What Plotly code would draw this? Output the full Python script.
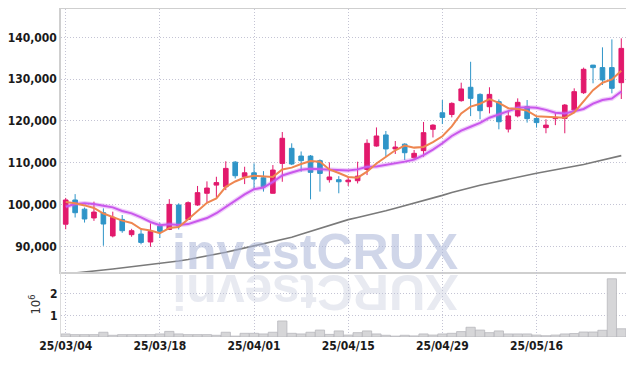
import plotly.graph_objects as go
from plotly.subplots import make_subplots

dates = ["25/03/04","25/03/05","25/03/06","25/03/07","25/03/10","25/03/11","25/03/12","25/03/13","25/03/14","25/03/17",
         "25/03/18","25/03/19","25/03/20","25/03/21","25/03/24","25/03/25","25/03/26","25/03/27","25/03/28","25/03/31",
         "25/04/01","25/04/02","25/04/03","25/04/04","25/04/07","25/04/08","25/04/09","25/04/10","25/04/11","25/04/14",
         "25/04/15","25/04/16","25/04/17","25/04/18","25/04/21","25/04/22","25/04/23","25/04/24","25/04/25","25/04/28",
         "25/04/29","25/04/30","25/05/02","25/05/07","25/05/08","25/05/09","25/05/12","25/05/13","25/05/14","25/05/15",
         "25/05/16","25/05/19","25/05/20","25/05/21","25/05/22","25/05/23","25/05/26","25/05/27","25/05/28","25/05/29"]

opens = [95300,101100,98900,96800,98050,92500,96450,92800,92950,91050,
         94850,94050,99900,96450,99900,102700,104650,104250,110150,106650,
         107600,106400,102700,109850,113450,111600,111600,110500,105950,105950,
         105450,105700,108400,114000,116650,113300,114450,111200,112900,118000,
         121950,121550,124850,128050,126350,123400,124600,118050,121200,123400,
         120600,118400,120550,120600,122600,126750,133350,132750,132750,129150]
highs = [101600,102500,99300,100700,99100,98300,97500,94200,94050,95500,
         95650,101300,100300,100750,104450,105550,106650,110350,110400,109050,
         109850,108000,109450,117350,114650,112700,111850,110800,110100,106800,
         106650,110250,115600,118450,117600,115200,114650,113050,119750,119200,
         125000,124450,129150,134150,126600,128050,125150,122200,125400,125000,
         121200,120400,122000,124050,127800,132750,133400,137600,139500,139750]
lows = [94100,96900,95700,96100,90150,92150,93250,92300,90500,89900,
        92000,93900,94050,96300,99700,100450,101700,103450,106250,104900,
        103450,103100,102650,105450,109450,107850,101250,103100,105250,102700,
        104450,105050,107050,113850,111450,112100,110650,110800,111450,116050,
        119250,120850,124600,121150,120400,121800,118000,117250,120850,119600,
        118400,117050,119000,117050,122200,126450,129000,128600,126600,125250]
closes = [101100,98050,96550,98200,95350,96950,93750,93750,90950,93600,
          93600,100050,94850,100450,102850,103950,105250,108650,106900,107600,
          106100,104250,108250,115850,109700,110500,107700,107450,106600,105450,
          105850,106800,114650,116400,113300,113750,112400,112250,117200,119000,
          120850,124200,127650,125400,122450,126350,119800,121200,124450,120550,
          119600,119000,120850,123800,127000,132350,132750,129800,127800,137350]

ma5 = [100600,100300,99800,99200,97850,97020,96160,95600,94150,93800,
       93130,94390,94610,96510,98360,100430,101470,104230,105520,106470,
       106900,106700,106620,108410,108830,109710,110400,110240,108390,107540,
       106610,106430,107870,109830,111400,112980,114100,113620,113780,114920,
       116340,118700,121780,123420,124110,125210,124330,123040,122850,122470,
       121120,120960,120890,120760,122050,124600,127350,129140,129940,132010]
ma10 = [99490,100130,100290,100130,99730,99330,98450,97900,96940,95825,
        95075,95275,95105,95330,96080,96780,97930,99420,101015,102415,
        103665,104085,105425,106965,107650,108305,108550,108430,108400,108185,
        108160,108415,109055,109110,109470,109795,110265,110745,111805,113160,
        114660,116400,117700,118600,119515,120775,121515,122410,123135,123290,
        123165,122645,121965,121805,122260,122860,124155,125015,125350,127030]
ma60 = [83400,83600,83900,84100,84350,84600,84850,85100,85350,85600,
        85850,86150,86500,86850,87250,87700,88150,88600,89100,89600,
        90100,90600,91100,91600,92200,92900,93600,94300,95000,95700,
        96400,96900,97400,97900,98500,99100,99700,100300,100900,101500,
        102200,102900,103500,104100,104600,105100,105600,106100,106600,107100,
        107500,107900,108300,108700,109100,109600,110100,110600,111100,111700]
volumes = [140000,110000,110000,110000,220000,80000,110000,110000,110000,110000,
           140000,260000,140000,110000,110000,110000,80000,220000,40000,170000,
           170000,140000,220000,740000,170000,140000,220000,320000,120000,280000,
           90000,200000,280000,140000,80000,40000,80000,50000,140000,90000,
           140000,170000,250000,450000,320000,200000,280000,140000,140000,140000,
           90000,60000,90000,140000,160000,230000,230000,310000,2690000,380000]

tick_labels = ["25/03/04","25/03/18","25/04/01","25/04/15","25/04/29","25/05/16"]
price_ticks = [90000,100000,110000,120000,130000,140000]
price_labels = ["90,000","100,000","110,000","120,000","130,000","140,000"]
vol_ticks = [1000000,2000000]
vol_labels = ["1","2"]

UP = "#e2196c"
DOWN = "#2f95c8"
GRID = "#c4c4d4"
DASH = "1px,2px"
FONT = "DejaVu Sans Condensed"

fig = make_subplots(rows=2, cols=1, shared_xaxes=True, vertical_spacing=0,
                    row_heights=[0.802, 0.198])

fig.add_trace(go.Scatter(x=dates, y=ma60, mode="lines",
                         line=dict(color="#7a7a7a", width=1.6), hoverinfo="skip"), row=1, col=1)
fig.add_trace(go.Candlestick(x=dates, open=opens, high=highs, low=lows, close=closes,
                             increasing=dict(line=dict(color=UP, width=1), fillcolor=UP),
                             decreasing=dict(line=dict(color=DOWN, width=1), fillcolor=DOWN),
                             whiskerwidth=0), row=1, col=1)
fig.add_trace(go.Scatter(x=dates, y=ma10, mode="lines",
                         line=dict(color="rgba(205,90,240,0.3)", width=4.5), hoverinfo="skip"), row=1, col=1)
fig.add_trace(go.Scatter(x=dates, y=ma10, mode="lines",
                         line=dict(color="#c957ec", width=2), hoverinfo="skip"), row=1, col=1)
fig.add_trace(go.Scatter(x=dates, y=ma5, mode="lines",
                         line=dict(color="#ee8650", width=2), hoverinfo="skip"), row=1, col=1)
fig.add_trace(go.Bar(x=dates, y=volumes, marker=dict(color="#d6d6d8", line=dict(color="#b8b8bc", width=0.8)),
                     hoverinfo="skip"), row=2, col=1)

axis_font = dict(family=FONT, size=12, color="#1a1a1a", weight="bold")

fig.update_xaxes(type="category", range=[-0.5, len(dates) - 0.5], rangeslider_visible=False,
                 tickvals=tick_labels, ticktext=tick_labels, automargin=False,
                 showgrid=True, gridcolor=GRID, griddash=DASH, gridwidth=1,
                 ticks="", tickfont=axis_font)
fig.update_xaxes(showticklabels=False, showline=True, linecolor="#cfcfcf", linewidth=1.5, mirror=True, row=1, col=1)
fig.update_xaxes(showline=False, row=2, col=1)

fig.update_yaxes(range=[83860, 146770], tickvals=price_ticks, ticktext=price_labels, automargin=False,
                 showgrid=True, gridcolor=GRID, griddash=DASH, gridwidth=1,
                 showline=True, linecolor="#cfcfcf", linewidth=1.5, mirror=True,
                 ticks="", tickfont=axis_font, zeroline=False, row=1, col=1)
fig.update_yaxes(range=[0, 3000000], tickvals=vol_ticks, ticktext=vol_labels, automargin=False,
                 showgrid=True, gridcolor=GRID, griddash=DASH, gridwidth=1,
                 showline=True, linecolor="#dcdcdc", linewidth=1, mirror=True,
                 ticks="", tickfont=axis_font, zeroline=False,
                 title=dict(text="10<sup>6</sup>", font=dict(family=FONT, size=13, color="#333333"), standoff=6),
                 row=2, col=1)

fig.add_annotation(text="investCRUX", xref="paper", yref="paper", x=0.45, y=0.198,
                   xanchor="center", yanchor="bottom", yshift=-10, showarrow=False,
                   font=dict(family="Liberation Sans", size=50, color="rgba(170,180,215,0.55)", weight="bold"))
fig.add_annotation(text="XURCtsevni", xref="paper", yref="paper", x=0.45, y=0.198,
                   xanchor="center", yanchor="top", yshift=10, textangle=180, showarrow=False,
                   font=dict(family="Liberation Sans", size=50, color="rgba(190,195,215,0.35)", weight="bold"))

# the page body adds an 8px offset, so the figure is sized to fit the 634x366 window
fig.update_layout(width=626, height=358, margin=dict(l=53, r=8, t=1, b=29),
                  paper_bgcolor="white", plot_bgcolor="white", showlegend=False,
                  bargap=0.02, hovermode=False)

fig.write_html("out.html")
